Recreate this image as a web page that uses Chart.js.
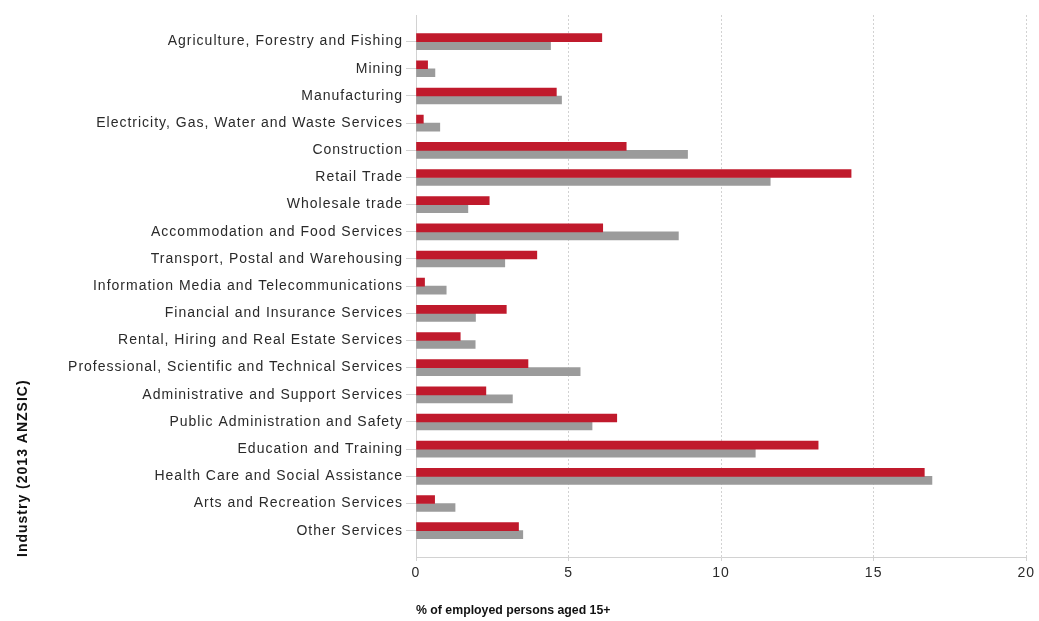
<!DOCTYPE html>
<html>
<head>
<meta charset="utf-8">
<title>Employment by industry</title>
<script src="https://cdn.jsdelivr.net/npm/chart.js@4/dist/chart.umd.min.js"></script>
<style>
  html, body { margin: 0; padding: 0; background: #ffffff; }
  .wrap { width: 1039px; height: 621px; position: relative; }
</style>
</head>
<body>
<div class="wrap"><canvas id="industryChart"></canvas></div>
<script>
// ── DATA ─────────────────────────────────────
const categories = [
  'Agriculture, Forestry and Fishing',
  'Mining',
  'Manufacturing',
  'Electricity, Gas, Water and Waste Services',
  'Construction',
  'Retail Trade',
  'Wholesale trade',
  'Accommodation and Food Services',
  'Transport, Postal and Warehousing',
  'Information Media and Telecommunications',
  'Financial and Insurance Services',
  'Rental, Hiring and Real Estate Services',
  'Professional, Scientific and Technical Services',
  'Administrative and Support Services',
  'Public Administration and Safety',
  'Education and Training',
  'Health Care and Social Assistance',
  'Arts and Recreation Services',
  'Other Services'
];

const redValues  = [6.09, 0.38, 4.60, 0.24, 6.89, 14.26, 2.40, 6.12, 3.96, 0.28, 2.96, 1.45, 3.67, 2.29, 6.58, 13.18, 16.66, 0.61, 3.36];
const greyValues = [4.41, 0.62, 4.77, 0.78, 8.90, 11.61, 1.70, 8.60, 2.91, 0.99, 1.95, 1.94, 5.38, 3.16, 5.77, 11.12, 16.91, 1.28, 3.50];

const xTicks = [0, 5, 10, 15, 20];

const RED  = '#c01a2c';
const GREY = '#9b9b9b';
const TEXT = '#2a2a2a';
const LINE = '#d2d2d2';
const FONT = "'Liberation Sans', Arial, sans-serif";

const last = categories.length - 1;

// first category at the top: row i sits at position (last - i)
const toPoints = vals => vals.map((v, i) => ({ x: v, y: last - i }));

// letter spacing to match the stretched look of the original,
// except for the x axis title which is narrower
const spacingPlugin = {
  id: 'spacing',
  beforeLayout(chart) { chart.ctx.letterSpacing = '1px'; },
  beforeDraw(chart)   { chart.ctx.letterSpacing = '1px'; },
  afterLayout(chart) {
    const x = chart.scales.x;
    if (x._plainTitle) return;
    const draw = x.drawTitle;
    x.drawTitle = function () {
      const prev = this.ctx.letterSpacing;
      this.ctx.letterSpacing = '0px';
      draw.call(this);
      this.ctx.letterSpacing = prev;
    };
    x._plainTitle = true;
  }
};

new Chart(document.getElementById('industryChart'), {
  type: 'bar',
  data: {
    datasets: [
      { label: 'Series 1', data: toPoints(redValues),  backgroundColor: RED,  barThickness: 8 },
      { label: 'Series 2', data: toPoints(greyValues), backgroundColor: GREY, barThickness: 8 }
    ]
  },
  plugins: [spacingPlugin],
  options: {
    indexAxis: 'y',
    responsive: true,
    maintainAspectRatio: false,
    animation: false,
    layout: { padding: { top: 15, right: 11, left: 0, bottom: 0 } },
    plugins: {
      legend:  { display: false },
      tooltip: { enabled: false }
    },
    scales: {
      x: {
        type: 'linear',
        min: 0,
        max: 20,
        afterBuildTicks: s => { s.ticks = xTicks.map(v => ({ value: v })); },
        afterFit: s => { s.height = 64; },
        grid: {
          color: LINE,
          lineWidth: 1,
          tickLength: 4
        },
        border: { display: true, color: LINE, dash: [2, 2] },
        ticks: {
          color: TEXT,
          padding: 4,
          font: { family: FONT, size: 14 }
        },
        title: {
          display: true,
          text: '% of employed persons aged 15+',
          align: 'start',
          color: '#111111',
          padding: { top: 0, bottom: 3 },
          font: { family: FONT, size: 12.3, weight: 'bold' }
        }
      },
      y: {
        type: 'linear',
        offset: false,
        min: -0.97,
        max: last + 0.98,
        afterBuildTicks: s => { s.ticks = categories.map((c, i) => ({ value: i })); },
        afterFit: s => { s.width = 416; },
        grid: {
          offset: false,
          drawOnChartArea: false,
          color: LINE,
          tickLength: 10
        },
        border: { display: true, color: LINE },
        ticks: {
          autoSkip: false,
          color: TEXT,
          padding: 3,
          font: { family: FONT, size: 14 },
          callback: v => categories[last - v]
        },
        title: {
          display: true,
          text: 'Industry (2013 ANZSIC)',
          align: 'start',
          color: '#111111',
          padding: { top: 15, bottom: 0 },
          font: { family: FONT, size: 14, weight: 'bold' }
        }
      }
    }
  }
});
</script>
</body>
</html>
